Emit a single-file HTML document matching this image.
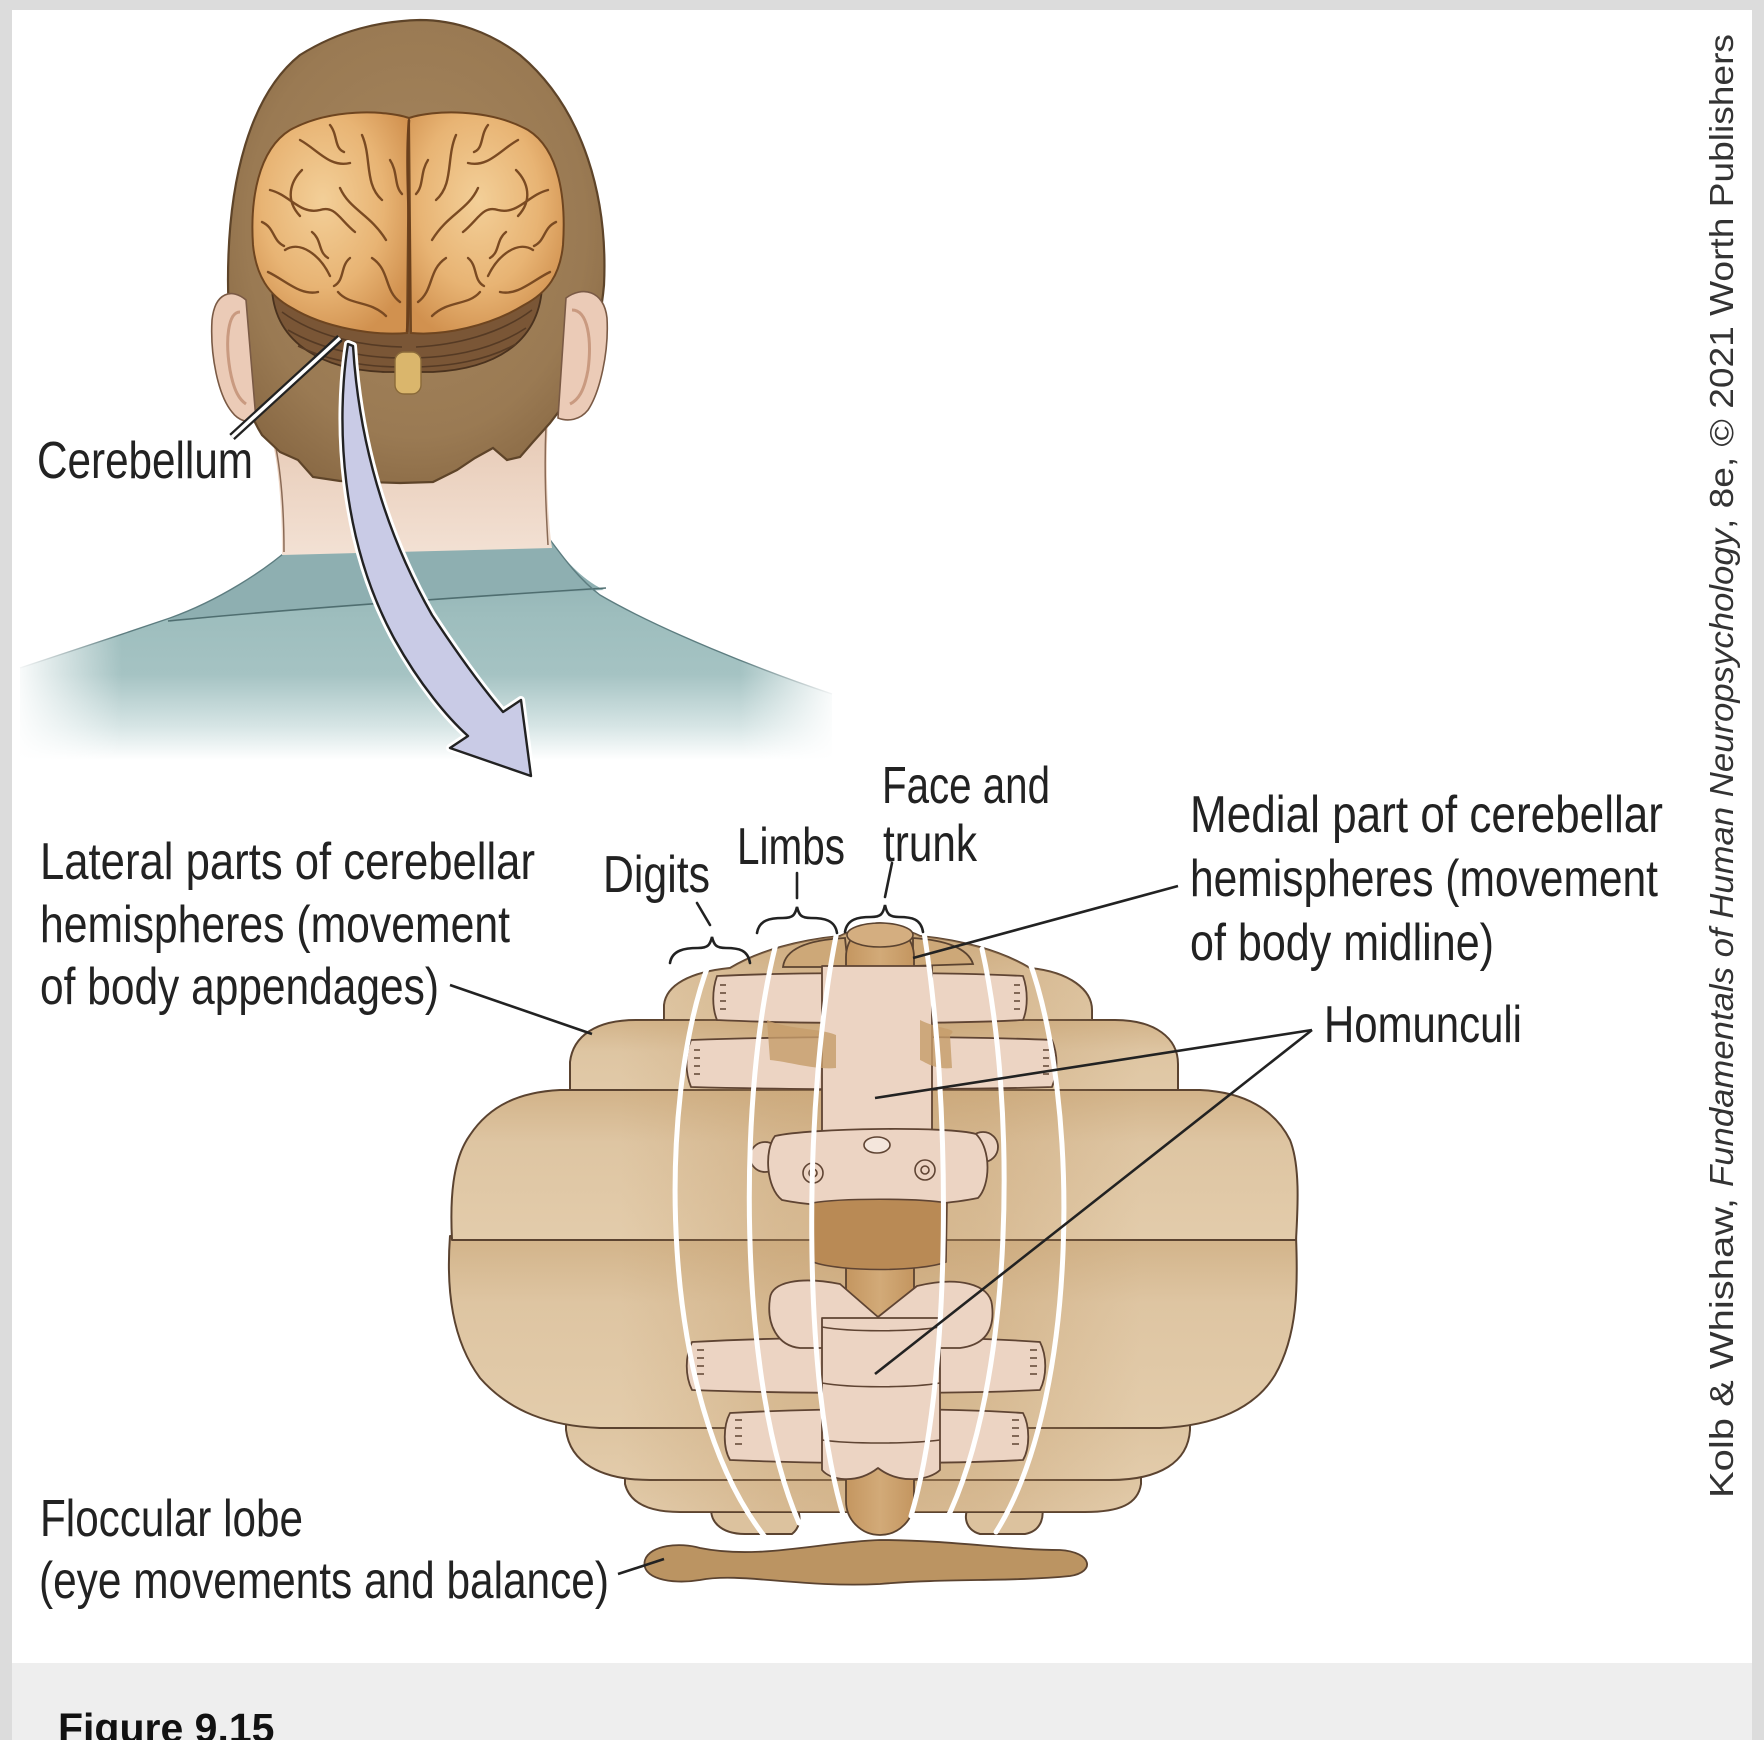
<!DOCTYPE html>
<html>
<head>
<meta charset="utf-8">
<style>
html,body{margin:0;padding:0;background:#dcdcdc;}
svg{display:block;}
.lbl{font-family:"Liberation Sans",Arial,sans-serif;font-size:52px;fill:#222;}
.cr{font-family:"Liberation Sans",Arial,sans-serif;font-size:33px;fill:#333;}
</style>
</head>
<body>
<svg width="1764" height="1740" viewBox="0 0 1764 1740" xmlns="http://www.w3.org/2000/svg">
<defs>
  <radialGradient id="hairG" cx="0.5" cy="0.45" r="0.6">
    <stop offset="0" stop-color="#a6865e"/>
    <stop offset="0.75" stop-color="#9a7a53"/>
    <stop offset="1" stop-color="#8a6a45"/>
  </radialGradient>
  <radialGradient id="brainG" cx="0.45" cy="0.4" r="0.65">
    <stop offset="0" stop-color="#f3cf98"/>
    <stop offset="0.6" stop-color="#e8b474"/>
    <stop offset="1" stop-color="#d1914f"/>
  </radialGradient>
  <linearGradient id="skinG" x1="0" y1="0" x2="0" y2="1">
    <stop offset="0" stop-color="#e6c9b4"/>
    <stop offset="1" stop-color="#f3e1d4"/>
  </linearGradient>
  <linearGradient id="shirtG" gradientUnits="userSpaceOnUse" x1="0" y1="535" x2="0" y2="760">
    <stop offset="0" stop-color="#8aacae"/>
    <stop offset="0.35" stop-color="#9dbdbd"/>
    <stop offset="0.62" stop-color="#a5c3c3"/>
    <stop offset="0.85" stop-color="#d6e5e5"/>
    <stop offset="1" stop-color="#ffffff"/>
  </linearGradient>
  <linearGradient id="fadeL" x1="0" y1="0" x2="1" y2="0">
    <stop offset="0" stop-color="#ffffff" stop-opacity="1"/>
    <stop offset="1" stop-color="#ffffff" stop-opacity="0"/>
  </linearGradient>
  <linearGradient id="fadeR" x1="0" y1="0" x2="1" y2="0">
    <stop offset="0" stop-color="#ffffff" stop-opacity="0"/>
    <stop offset="1" stop-color="#ffffff" stop-opacity="1"/>
  </linearGradient>
  <linearGradient id="lobeG" x1="0" y1="0" x2="0" y2="1">
    <stop offset="0" stop-color="#d2b389"/>
    <stop offset="0.35" stop-color="#dec5a2"/>
    <stop offset="1" stop-color="#e3ccab"/>
  </linearGradient>
  <linearGradient id="centerG" gradientUnits="userSpaceOnUse" x1="620" y1="0" x2="1140" y2="0">
    <stop offset="0" stop-color="#c29a68" stop-opacity="0"/>
    <stop offset="0.3" stop-color="#c29a68" stop-opacity="0.35"/>
    <stop offset="0.5" stop-color="#c29a68" stop-opacity="0.45"/>
    <stop offset="0.7" stop-color="#c29a68" stop-opacity="0.35"/>
    <stop offset="1" stop-color="#c29a68" stop-opacity="0"/>
  </linearGradient>
  <linearGradient id="vermG" x1="0" y1="0" x2="1" y2="0">
    <stop offset="0" stop-color="#c49660"/>
    <stop offset="0.5" stop-color="#d2aa78"/>
    <stop offset="1" stop-color="#c49660"/>
  </linearGradient>
  <clipPath id="cbClip">
    <path d="M664,1050 L664,1005 C666,985 690,972 730,968 C760,950 800,940 840,936 C860,925 900,925 920,936 C960,940 1000,950 1030,968 C1070,972 1092,990 1092,1010 L1092,1050 Z"/>
    <path d="M570,1110 L570,1062 C573,1036 596,1020 636,1020 L1115,1020 C1155,1020 1178,1038 1178,1064 L1178,1110 Z"/>
    <path d="M452,1240 C450,1200 452,1160 470,1135 C490,1105 520,1092 560,1090 L1200,1090 C1245,1092 1275,1110 1290,1140 C1300,1165 1298,1205 1296,1240 Z"/>
    <path d="M450,1236 C446,1290 452,1340 480,1378 C510,1412 550,1426 600,1428 L1160,1428 C1215,1426 1255,1408 1275,1375 C1298,1335 1298,1285 1296,1236 Z"/>
    <path d="M566,1400 L566,1430 C570,1462 600,1480 650,1480 L1110,1480 C1160,1480 1188,1462 1190,1430 L1190,1400 Z"/>
    <path d="M625,1460 L625,1484 C630,1504 650,1512 680,1512 L1085,1512 C1120,1512 1138,1504 1141,1484 L1141,1460 Z"/>
  </clipPath>
</defs>

<!-- frame -->
<rect x="0" y="0" width="1764" height="1740" fill="#dcdcdc"/>
<rect x="12" y="10" width="1740" height="1653" fill="#ffffff"/>
<rect x="12" y="1663" width="1740" height="77" fill="#eeeeee"/>
<text x="58" y="1742" font-family="Liberation Sans, Arial, sans-serif" font-weight="bold" font-size="41" fill="#111">Figure 9.15</text>

<!-- vertical credit -->
<g transform="translate(1733,1498) rotate(-90)">
  <text class="cr" x="0" y="0" textLength="300" lengthAdjust="spacingAndGlyphs">Kolb &amp; Whishaw,</text>
  <text class="cr" x="311" y="0" font-style="italic" textLength="658" lengthAdjust="spacingAndGlyphs">Fundamentals of Human Neuropsychology</text>
  <text class="cr" x="969" y="0" textLength="495" lengthAdjust="spacingAndGlyphs">, 8e, © 2021 Worth Publishers</text>
</g>

<!-- ============ HEAD ============ -->
<!-- shirt -->
<path d="M20,668 C60,655 120,635 170,618 C220,600 265,570 290,548 L548,537 C565,560 580,580 600,595 C660,630 760,670 832,694 L832,770 L20,770 Z" fill="url(#shirtG)"/>
<path d="M170,619 C220,600 265,570 290,548 L548,537 C565,560 580,578 604,590 C480,596 300,607 170,622 Z" fill="#8eafb1"/>
<path d="M168,621 C300,608 480,596 606,588" fill="none" stroke="#4f6e70" stroke-width="1.6"/>
<path d="M20,668 C60,655 120,635 170,618 C220,600 265,570 290,548" fill="none" stroke="#5d7d80" stroke-width="1.4"/>
<path d="M548,537 C565,560 580,580 600,595 C660,630 760,670 832,694" fill="none" stroke="#5d7d80" stroke-width="1.4"/>
<rect x="12" y="600" width="110" height="170" fill="url(#fadeL)"/>
<rect x="740" y="640" width="100" height="130" fill="url(#fadeR)"/>

<!-- neck -->
<path d="M272,440 C280,470 282,520 282,555 L552,548 C548,520 545,470 548,420 Z" fill="url(#skinG)"/>
<path d="M276,448 C282,480 284,520 284,552" fill="none" stroke="#8a6a55" stroke-width="1.5"/>
<path d="M546,425 C544,470 546,510 548,545" fill="none" stroke="#8a6a55" stroke-width="1.5"/>

<!-- hair / head -->
<path d="M280,452 L298,460 L313,477 L340,481 L367,482 L400,483 L433,482 L457,470 L475,458 L493,448 L507,460 L520,457 L533,442 L550,423 L560,410 C585,380 600,330 604,285 C608,200 585,110 520,55 C490,32 455,20 420,20 C380,21 340,30 300,55 C250,95 228,180 228,280 C228,340 240,400 262,435 Z" fill="url(#hairG)" stroke="#5e4429" stroke-width="2.2"/>

<!-- ears -->
<path d="M246,300 C232,288 215,292 212,320 C210,355 218,395 232,412 C238,420 248,424 256,420 Z" fill="#ebcbb7" stroke="#7a5a45" stroke-width="1.6"/>
<path d="M240,312 C228,312 225,340 230,370 C234,392 240,400 246,404" fill="none" stroke="#c99a80" stroke-width="3"/>
<path d="M566,298 C582,286 604,290 607,318 C609,352 600,392 588,410 C580,420 568,422 558,418 Z" fill="#ebcbb7" stroke="#7a5a45" stroke-width="1.6"/>
<path d="M572,310 C588,310 592,340 588,370 C584,392 578,400 570,404" fill="none" stroke="#c99a80" stroke-width="3"/>

<!-- brain cerebellum (in head) -->
<path d="M272,290 C276,345 325,370 385,372 L433,372 C492,369 538,345 542,288 Z" fill="#7a5636" stroke="#4a321e" stroke-width="1.8"/>
<g fill="none" stroke="#553a24" stroke-width="1.6">
  <path d="M282,312 C315,336 360,346 402,347"/>
  <path d="M288,330 C322,350 365,358 402,358"/>
  <path d="M298,346 C330,362 370,367 402,367"/>
  <path d="M532,310 C500,334 456,345 416,347"/>
  <path d="M526,328 C494,349 454,357 416,358"/>
  <path d="M516,344 C486,361 450,366 416,367"/>
</g>
<rect x="395" y="352" width="26" height="42" rx="9" fill="#dab66c" stroke="#8a6a3a" stroke-width="1.4"/>

<!-- cerebrum -->
<path d="M409,118 C385,110 330,108 290,130 C258,150 250,200 253,245 C256,275 268,295 292,308 C325,328 375,336 407,333 Z" fill="url(#brainG)" stroke="#6e4520" stroke-width="2"/>
<path d="M409,118 C433,110 488,108 528,130 C560,150 566,200 563,245 C560,275 548,292 524,305 C490,326 443,336 411,333 Z" fill="url(#brainG)" stroke="#6e4520" stroke-width="2"/>
<g id="sulciL" fill="none" stroke="#7a4a22" stroke-width="2.4" stroke-linecap="round">
  <path d="M300,140 C318,150 330,168 350,163"/>
  <path d="M270,190 C290,195 300,215 320,210 C335,205 340,220 355,232"/>
  <path d="M285,250 C300,240 320,255 330,276"/>
  <path d="M362,135 C372,158 364,184 382,200"/>
  <path d="M340,188 C350,210 370,214 386,240"/>
  <path d="M268,272 C285,280 300,296 318,292"/>
  <path d="M338,292 C350,306 370,300 386,316"/>
  <path d="M372,258 C390,270 384,290 400,302"/>
  <path d="M302,170 C290,182 285,200 300,216"/>
  <path d="M330,125 C338,135 334,148 344,152"/>
  <path d="M262,222 C275,228 272,240 284,246"/>
  <path d="M350,258 C340,266 345,280 334,286"/>
  <path d="M390,160 C398,172 394,186 402,194"/>
  <path d="M312,232 C322,240 318,252 328,258"/>
</g>
<use href="#sulciL" transform="translate(818,0) scale(-1,1)"/>
<path d="M409,120 C404,180 414,250 407,332" fill="none" stroke="#6a3f1c" stroke-width="2.6"/>

<!-- Cerebellum leader (double line) -->
<line x1="232" y1="437" x2="340" y2="338" stroke="#222" stroke-width="8"/>
<line x1="232" y1="437" x2="340" y2="338" stroke="#ffffff" stroke-width="3.5"/>

<!-- curved arrow -->
<path d="M348,344 C336,420 340,540 395,640 C420,685 448,718 468,736 L450,748 L531,776 L521,700 L503,712 C480,685 455,650 432,615 C395,550 360,460 353,346 Z" fill="none" stroke="#ffffff" stroke-width="8" stroke-linejoin="round"/>
<path d="M348,344 C336,420 340,540 395,640 C420,685 448,718 468,736 L450,748 L531,776 L521,700 L503,712 C480,685 455,650 432,615 C395,550 360,460 353,346 Z" fill="#c9cbe6" stroke="#222" stroke-width="2.4" stroke-linejoin="round"/>

<text class="lbl" x="37" y="478" textLength="216" lengthAdjust="spacingAndGlyphs">Cerebellum</text>

<!-- ============ CEREBELLUM DIAGRAM ============ -->
<g stroke="#5b4330" stroke-width="2" stroke-linejoin="round">
  <!-- band A -->
  <path d="M664,1050 L664,1005 C666,985 690,972 730,968 C760,950 800,940 840,936 C860,925 900,925 920,936 C960,940 1000,950 1030,968 C1070,972 1092,990 1092,1010 L1092,1050 Z" fill="url(#lobeG)"/>
  <!-- band B -->
  <path d="M570,1110 L570,1062 C573,1036 596,1020 636,1020 L1115,1020 C1155,1020 1178,1038 1178,1064 L1178,1110 Z" fill="url(#lobeG)"/>
  <!-- band G small lobes -->
  <path d="M712,1505 C708,1520 720,1534 745,1534 L792,1534 C802,1526 802,1510 792,1503 Z" fill="#dcc29e"/>
  <path d="M972,1503 C962,1512 964,1530 980,1534 L1025,1534 C1042,1531 1046,1514 1040,1503 Z" fill="#dcc29e"/>
  <!-- band F -->
  <path d="M625,1460 L625,1484 C630,1504 650,1512 680,1512 L1085,1512 C1120,1512 1138,1504 1141,1484 L1141,1460 Z" fill="url(#lobeG)"/>
  <!-- band E -->
  <path d="M566,1400 L566,1430 C570,1462 600,1480 650,1480 L1110,1480 C1160,1480 1188,1462 1190,1430 L1190,1400 Z" fill="url(#lobeG)"/>
  <!-- band D -->
  <path d="M450,1236 C446,1290 452,1340 480,1378 C510,1412 550,1426 600,1428 L1160,1428 C1215,1426 1255,1408 1275,1375 C1298,1335 1298,1285 1296,1236 Z" fill="url(#lobeG)"/>
  <!-- band C -->
  <path d="M452,1240 C450,1200 452,1160 470,1135 C490,1105 520,1092 560,1090 L1200,1090 C1245,1092 1275,1110 1290,1140 C1300,1165 1298,1205 1296,1240 Z" fill="url(#lobeG)"/>
</g>
<!-- central darker shading (smooth) -->
<g clip-path="url(#cbClip)">
  <rect x="620" y="920" width="520" height="620" fill="url(#centerG)"/>
</g>

<!-- top bumps -->
<path d="M783,967 C785,950 805,940 845,938 L848,967 Z" fill="#cda878" stroke="#5b4330" stroke-width="1.8"/>
<path d="M913,938 C945,940 968,948 973,964 L913,966 Z" fill="#cda878" stroke="#5b4330" stroke-width="1.8"/>

<!-- vermis column -->
<rect x="846" y="923" width="68" height="612" rx="34" fill="url(#vermG)" stroke="#5b4330" stroke-width="1.8"/>
<ellipse cx="880" cy="935" rx="33" ry="12" fill="#d4ae80" stroke="#5b4330" stroke-width="1.6"/>

<!-- ===== upper homunculus (inverted) ===== -->
<g fill="#ecd4c3" stroke="#5f4433" stroke-width="1.8" stroke-linejoin="round">
  <path d="M717,976 C800,972 950,972 1023,976 C1028,990 1028,1008 1023,1020 C950,1024 800,1024 717,1020 C712,1008 712,990 717,976 Z"/>
  <path d="M691,1040 C800,1036 960,1036 1052,1040 C1058,1055 1058,1072 1052,1087 C960,1090 800,1090 691,1087 C685,1072 685,1055 691,1040 Z"/>
  <rect x="822" y="966" width="110" height="170"/>
  <circle cx="765" cy="1157" r="15"/>
  <circle cx="983" cy="1147" r="15"/>
  <path d="M775,1136 C810,1128 950,1126 976,1134 C992,1150 990,1186 978,1198 C930,1208 830,1210 782,1200 C766,1188 764,1150 775,1136 Z"/>
</g>
<rect x="824" y="1000" width="106" height="120" fill="#ecd4c3"/>
<g fill="none" stroke="#5f4433" stroke-width="1.6">
  <path d="M720,985 l6,0 M720,993 l6,0 M720,1001 l6,0 M720,1009 l6,0"/>
  <path d="M1014,985 l6,0 M1014,993 l6,0 M1014,1001 l6,0 M1014,1009 l6,0"/>
  <path d="M694,1050 l6,0 M694,1058 l6,0 M694,1066 l6,0 M694,1074 l6,0"/>
  <path d="M1043,1050 l6,0 M1043,1058 l6,0 M1043,1066 l6,0 M1043,1074 l6,0"/>
  <circle cx="813" cy="1173" r="10"/>
  <circle cx="813" cy="1173" r="4"/>
  <circle cx="925" cy="1170" r="10"/>
  <circle cx="925" cy="1170" r="4"/>
</g>
<ellipse cx="877" cy="1145" rx="13" ry="8" fill="#f4e6dc" stroke="#5f4433" stroke-width="1.6"/>
<!-- dark patches -->
<path d="M767,1020 C790,1030 820,1028 836,1035 L836,1068 C815,1070 790,1062 770,1060 Z" fill="#c69c6a" opacity="0.8"/>
<path d="M920,1020 C940,1030 960,1028 950,1035 L952,1068 C935,1070 925,1062 920,1060 Z" fill="#c69c6a" opacity="0.8"/>
<!-- dark region under face -->
<path d="M812,1203 C840,1198 920,1198 947,1203 L946,1262 C920,1272 840,1272 813,1262 Z" fill="#b98a55" stroke="#5f4433" stroke-width="1.6"/>

<!-- ===== lower homunculus ===== -->
<g fill="#ecd4c3" stroke="#5f4433" stroke-width="1.8" stroke-linejoin="round">
  <path d="M692,1342 C800,1336 960,1336 1040,1342 C1047,1356 1047,1376 1040,1390 C960,1394 800,1394 692,1390 C685,1376 685,1356 692,1342 Z"/>
  <path d="M730,1413 C820,1408 950,1408 1023,1413 C1030,1426 1030,1448 1023,1460 C950,1464 820,1464 730,1460 C723,1448 723,1426 730,1413 Z"/>
  <path d="M770,1298 C772,1282 800,1276 840,1284 L878,1317 L917,1286 C958,1276 990,1284 992,1305 C995,1330 985,1345 960,1348 L800,1348 C778,1346 766,1325 770,1298 Z"/>
  <path d="M822,1318 L940,1318 L940,1470 C930,1480 900,1485 878,1468 C856,1485 830,1480 822,1470 Z"/>
</g>
<rect x="824" y="1338" width="114" height="52" fill="#ecd4c3"/>
<rect x="824" y="1408" width="114" height="54" fill="#ecd4c3"/>
<g fill="none" stroke="#5f4433" stroke-width="1.6">
  <path d="M822,1327 C850,1332 910,1332 940,1327"/>
  <path d="M822,1383 C850,1388 910,1388 940,1383"/>
  <path d="M822,1440 C850,1444 910,1444 940,1440"/>
  <path d="M697,1350 l7,0 M697,1358 l7,0 M697,1366 l7,0 M697,1374 l7,0"/>
  <path d="M1030,1350 l7,0 M1030,1358 l7,0 M1030,1366 l7,0 M1030,1374 l7,0"/>
  <path d="M735,1420 l7,0 M735,1428 l7,0 M735,1436 l7,0 M735,1444 l7,0"/>
  <path d="M1012,1420 l7,0 M1012,1428 l7,0 M1012,1436 l7,0 M1012,1444 l7,0"/>
</g>

<!-- floccular lobe -->
<path d="M645,1560 C650,1545 680,1542 700,1548 C760,1560 820,1542 880,1540 C950,1540 1010,1550 1060,1550 C1092,1552 1096,1572 1070,1576 C1010,1582 950,1578 880,1584 C800,1588 740,1572 700,1580 C670,1585 640,1578 645,1560 Z" fill="#bb9462" stroke="#5b4330" stroke-width="1.8"/>

<!-- white meridian stripes -->
<g fill="none" stroke="#ffffff" stroke-width="5" stroke-linecap="round">
  <path d="M709,963 C657,1100 657,1400 765,1537"/>
  <path d="M777,940 C737,1090 737,1380 799,1523"/>
  <path d="M838,926 C802,1100 802,1380 844,1518"/>
  <path d="M923,926 C952,1100 952,1380 911,1516"/>
  <path d="M982,949 C1016,1100 1016,1380 945,1523"/>
  <path d="M1029,960 C1080,1100 1080,1400 996,1532"/>
</g>

<!-- braces -->
<g fill="none" stroke="#222" stroke-width="2.6" stroke-linecap="round">
  <path d="M670,963 C672,950 685,948 698,948 C708,948 710,945 712,937 C714,945 716,948 726,948 C739,948 748,950 750,963"/>
  <path d="M697,903 L710,925"/>
  <path d="M757,933 C759,920 770,918 783,918 C793,918 795,915 797,907 C799,915 801,918 811,918 C824,918 835,920 837,933"/>
  <path d="M797,873 L797,898"/>
  <path d="M845,932 C847,919 858,917 871,917 C881,917 883,914 885,905 C887,914 889,917 899,917 C912,917 921,919 923,932"/>
  <path d="M892,863 L885,897"/>
</g>

<!-- leader lines -->
<g stroke="#222" stroke-width="2.6" fill="none">
  <line x1="450" y1="985" x2="592" y2="1034"/>
  <line x1="1178" y1="886" x2="913" y2="958"/>
  <line x1="1312" y1="1030" x2="875" y2="1098"/>
  <line x1="1312" y1="1030" x2="875" y2="1374"/>
  <line x1="618" y1="1574" x2="664" y2="1559"/>
</g>

<!-- labels -->
<text class="lbl" x="40" y="879" textLength="495" lengthAdjust="spacingAndGlyphs">Lateral parts of cerebellar</text>
<text class="lbl" x="40" y="942" textLength="470" lengthAdjust="spacingAndGlyphs">hemispheres (movement</text>
<text class="lbl" x="40" y="1004" textLength="399" lengthAdjust="spacingAndGlyphs">of body appendages)</text>

<text class="lbl" x="603" y="892" textLength="107" lengthAdjust="spacingAndGlyphs">Digits</text>
<text class="lbl" x="737" y="864" textLength="108" lengthAdjust="spacingAndGlyphs">Limbs</text>
<text class="lbl" x="882" y="803" textLength="168" lengthAdjust="spacingAndGlyphs">Face and</text>
<text class="lbl" x="883" y="861" textLength="94" lengthAdjust="spacingAndGlyphs">trunk</text>

<text class="lbl" x="1190" y="832" textLength="473" lengthAdjust="spacingAndGlyphs">Medial part of cerebellar</text>
<text class="lbl" x="1190" y="896" textLength="468" lengthAdjust="spacingAndGlyphs">hemispheres (movement</text>
<text class="lbl" x="1190" y="960" textLength="304" lengthAdjust="spacingAndGlyphs">of body midline)</text>

<text class="lbl" x="1324" y="1042" textLength="198" lengthAdjust="spacingAndGlyphs">Homunculi</text>

<text class="lbl" x="40" y="1536" textLength="263" lengthAdjust="spacingAndGlyphs">Floccular lobe</text>
<text class="lbl" x="39" y="1598" textLength="570" lengthAdjust="spacingAndGlyphs">(eye movements and balance)</text>
</svg>
</body>
</html>
